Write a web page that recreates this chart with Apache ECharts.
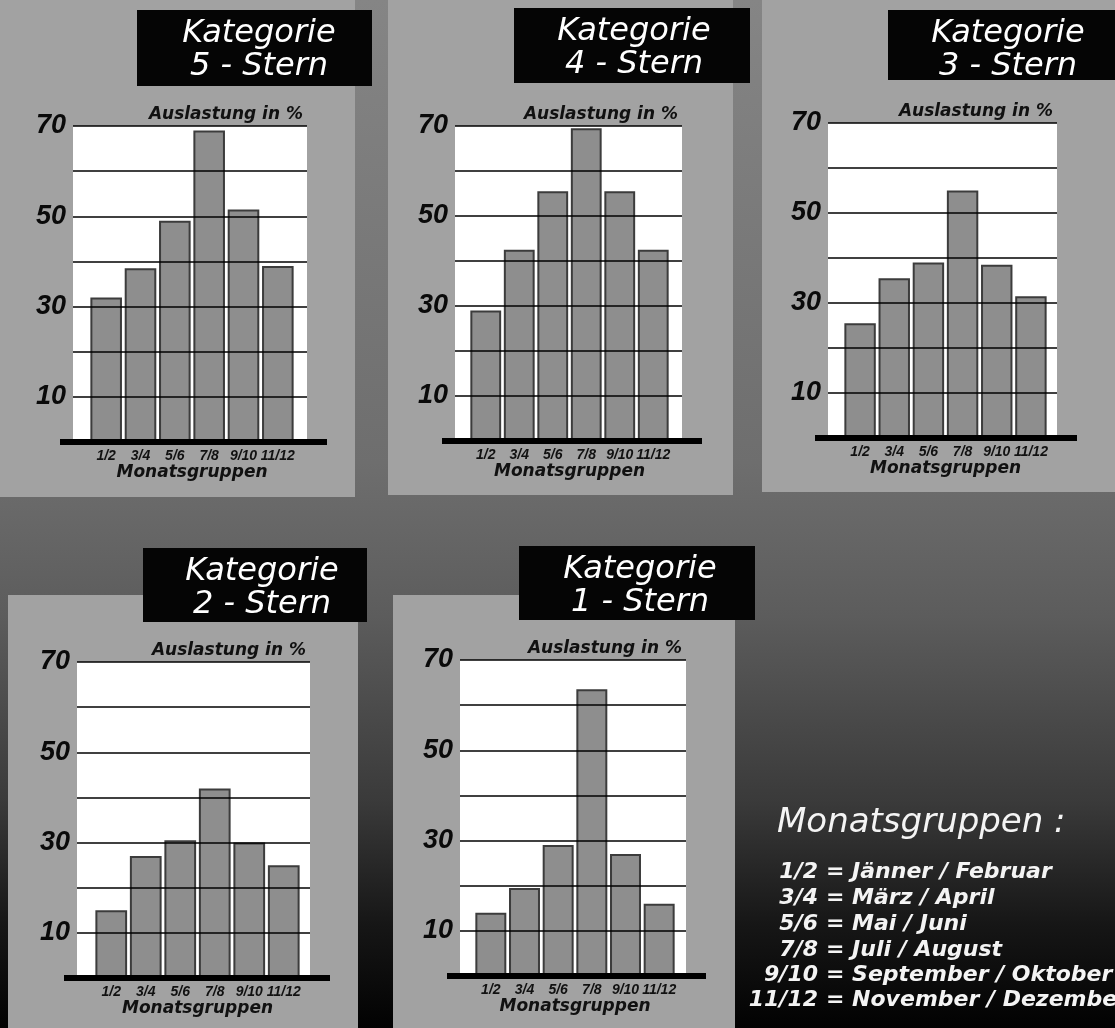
<!DOCTYPE html>
<html><head><meta charset="utf-8">
<script src="https://cdn.jsdelivr.net/npm/echarts@6/dist/echarts.min.js"></script>
<style>html,body{margin:0;padding:0;background:#555;}#c{width:1115px;height:1028px;}</style>
</head><body><div id="c"></div>
<script>
// ---------- data ----------
const categories = ['1/2', '3/4', '5/6', '7/8', '9/10', '11/12'];
const yTickLabels = [10, 30, 50, 70];
const kat5 = [32, 38.5, 49, 69, 51.5, 39];
const kat4 = [29, 42.5, 55.5, 69.5, 55.5, 42.5];
const kat3 = [25.5, 35.5, 39, 55, 38.5, 31.5];
const kat2 = [15, 27, 30.5, 42, 30, 25];
const kat1 = [14, 19.5, 29, 63.5, 27, 16];
const panelStars = ['5 - Stern', '4 - Stern', '3 - Stern', '2 - Stern', '1 - Stern'];
const legendKeys = ['1/2', '3/4', '5/6', '7/8', '9/10', '11/12'];
const legendNames = ['Jänner / Februar', 'März / April', 'Mai / Juni', 'Juli / August', 'September / Oktober', 'November / Dezember'];

// ---------- layout ----------
const panelData = [kat5, kat4, kat3, kat2, kat1];
const layout = [
  {bg: [0, 0, 355, 497], box: [137, 10, 235, 76], tx: 259, plot: [73, 126, 234, 316], bars: [89, 206]},
  {bg: [388, 0, 345, 495], box: [514, 8, 236, 75], tx: 634, plot: [455, 126, 227, 315], bars: [469, 201]},
  {bg: [762, 0, 360, 492], box: [888, 10, 240, 70], tx: 1008, plot: [828, 123, 229, 315], bars: [843, 205]},
  {bg: [8, 595, 350, 440], box: [143, 548, 224, 74], tx: 262, plot: [77, 662, 233, 316], bars: [94, 207]},
  {bg: [393, 595, 342, 440], box: [519, 546, 236, 74], tx: 640, plot: [460, 660, 226, 316], bars: [474, 202]}
];

const chart = echarts.init(document.getElementById('c'), null, {renderer: 'canvas'});
const grid = [], xAxis = [], yAxis = [], series = [], graphic = [];

graphic.push({
  type: 'rect', z: -20, shape: {x: 0, y: 0, width: 1115, height: 1028},
  style: {fill: new echarts.graphic.LinearGradient(0, 0, 0, 1, [
    {offset: 0, color: '#858585'}, {offset: 0.45, color: '#6e6e6e'},
    {offset: 0.6, color: '#5c5c5c'}, {offset: 0.78, color: '#3a3a3a'},
    {offset: 0.9, color: '#161616'}, {offset: 1, color: '#020202'}])}
});

const ff = 'Liberation Sans';
const fd = 'DejaVu Sans';

layout.forEach((L, i) => {
  const [px, py, pw, ph] = L.plot;
  graphic.push({type: 'rect', z: -10, shape: {x: L.bg[0], y: L.bg[1], width: L.bg[2], height: L.bg[3]}, style: {fill: '#a2a2a2'}});
  // title box
  graphic.push({type: 'rect', z: 5, shape: {x: L.box[0], y: L.box[1], width: L.box[2], height: L.box[3]}, style: {fill: '#050505'}});
  graphic.push({type: 'text', z: 6, x: L.tx, y: L.box[1] + 24, style: {text: 'Kategorie', fill: '#fff', font: 'italic normal 32px "' + fd + '"', align: 'center', verticalAlign: 'middle'}});
  graphic.push({type: 'text', z: 6, x: L.tx, y: L.box[1] + 57, style: {text: panelStars[i], fill: '#fff', font: 'italic normal 32px "' + fd + '"', align: 'center', verticalAlign: 'middle'}});
  // y-axis caption
  graphic.push({type: 'text', z: 6, x: px + pw - 4, y: py - 11, style: {text: 'Auslastung in %', fill: '#111', font: 'italic bold 17px "' + fd + '"', align: 'right', verticalAlign: 'middle'}});
  // thick base line
  graphic.push({type: 'rect', z: 10, shape: {x: px - 13, y: py + ph - 3, width: pw + 33, height: 6}, style: {fill: '#000'}});

  grid.push({left: px, top: py, width: pw, height: ph, show: true, backgroundColor: '#ffffff', borderWidth: 0});
  grid.push({left: L.bars[0], top: py, width: L.bars[1], height: ph, show: false});

  xAxis.push({gridIndex: 2 * i, type: 'category', data: categories, show: false});
  yAxis.push({
    gridIndex: 2 * i, type: 'value', min: 0, max: 70, interval: 10, z: 5,
    axisLine: {show: false}, axisTick: {show: false},
    splitLine: {show: true, lineStyle: {color: '#000', width: 1.5}},
    axisLabel: {
      formatter: v => (yTickLabels.indexOf(v) >= 0 ? String(v) : ''),
      margin: 7, color: '#0a0a0a', fontFamily: ff, fontStyle: 'italic', fontWeight: 'bold', fontSize: 27
    }
  });
  xAxis.push({
    gridIndex: 2 * i + 1, type: 'category', data: categories,
    axisLine: {show: false}, axisTick: {show: false},
    axisLabel: {interval: 0, margin: 7, color: '#111', fontFamily: ff, fontStyle: 'italic', fontWeight: 'bold', fontSize: 14},
    name: 'Monatsgruppen', nameLocation: 'middle', nameGap: 19,
    nameTextStyle: {color: '#111', fontFamily: fd, fontStyle: 'italic', fontWeight: 'bold', fontSize: 17}
  });
  yAxis.push({gridIndex: 2 * i + 1, type: 'value', min: 0, max: 70, show: false});
  series.push({
    type: 'bar', xAxisIndex: 2 * i + 1, yAxisIndex: 2 * i + 1, data: panelData[i], z: 2,
    barCategoryGap: '8%',
    itemStyle: {color: '#8e8e8e', borderColor: '#3c3c3c', borderWidth: 2},
    emphasis: {disabled: true}, animation: false
  });
});

// legend block
graphic.push({type: 'text', z: 6, x: 777, y: 823, style: {text: 'Monatsgruppen :', fill: '#f4f4f4', font: 'italic normal 34px "' + fd + '"', align: 'left', verticalAlign: 'middle'}});
const lineY = [872, 898, 924, 950, 975, 1000];
legendKeys.forEach((k, j) => {
  graphic.push({type: 'text', z: 6, x: 818, y: lineY[j], style: {text: k, fill: '#f4f4f4', font: 'italic bold 22px "' + fd + '"', align: 'right', verticalAlign: 'middle'}});
  graphic.push({type: 'text', z: 6, x: 826, y: lineY[j], style: {text: '= ' + legendNames[j], fill: '#f4f4f4', font: 'italic bold 22px "' + fd + '"', align: 'left', verticalAlign: 'middle'}});
});

chart.setOption({animation: false, grid, xAxis, yAxis, series, graphic});
</script></body></html>
